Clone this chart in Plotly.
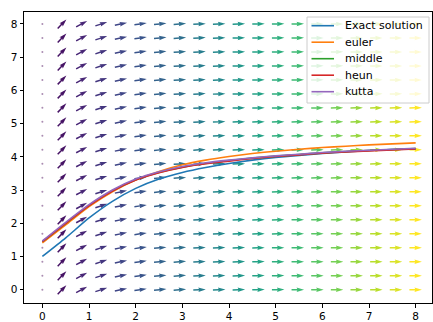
import numpy as np
import plotly.graph_objects as go
import plotly.colors as pc

# ---- direction field grid (20 x 20) ----
grid_x = [0.0, 0.421, 0.842, 1.263, 1.684, 2.105, 2.526, 2.947, 3.368, 3.789,
          4.211, 4.632, 5.053, 5.474, 5.895, 6.316, 6.737, 7.158, 7.579, 8.0]
grid_y = [0.0, 0.421, 0.842, 1.263, 1.684, 2.105, 2.526, 2.947, 3.368, 3.789,
          4.211, 4.632, 5.053, 5.474, 5.895, 6.316, 6.737, 7.158, 7.579, 8.0]
# arrow direction per column (degrees, on screen); first column has zero-length vectors
arrow_angle_deg = [None, 46, 28, 18, 12, 8, 5.5, 4, 3, 2.2,
                   1.6, 1.2, 1.0, 0.8, 0.6, 0.5, 0.4, 0.3, 0.2, 0.2]

# ---- solution curves ----
x_sol = [0, 0.5, 1, 1.5, 2, 2.5, 3, 3.5, 4, 4.5, 5, 5.5, 6, 6.5, 7, 7.5, 8]
exact = [1.0, 1.56, 2.16, 2.66, 3.05, 3.33, 3.53, 3.68, 3.8, 3.9, 3.98, 4.04, 4.1, 4.15, 4.19, 4.22, 4.24]
euler = [1.41, 1.95, 2.5, 2.95, 3.3, 3.56, 3.76, 3.9, 4.01, 4.1, 4.17, 4.23, 4.28, 4.32, 4.36, 4.39, 4.42]
middle = [1.45, 2.0, 2.54, 2.98, 3.31, 3.53, 3.69, 3.8, 3.89, 3.96, 4.02, 4.07, 4.12, 4.16, 4.19, 4.22, 4.25]
heun = [1.45, 2.0, 2.53, 2.97, 3.3, 3.52, 3.68, 3.79, 3.87, 3.95, 4.01, 4.06, 4.11, 4.15, 4.18, 4.21, 4.24]
kutta = [1.47, 2.03, 2.56, 3.0, 3.33, 3.55, 3.71, 3.82, 3.9, 3.97, 4.03, 4.08, 4.13, 4.17, 4.2, 4.23, 4.26]

series_names = ["Exact solution", "euler", "middle", "heun", "kutta"]
series_colors = ["#1f77b4", "#ff7f0e", "#2ca02c", "#d62728", "#9467bd"]
series_values = [exact, euler, middle, heun, kutta]

W, H = 433, 322
margin = dict(l=24, r=1, t=12, b=19, pad=0)
x_range = [-0.394, 8.35]
y_range = [-0.40, 8.36]
plot_w = W - margin['l'] - margin['r']
plot_h = H - margin['t'] - margin['b']
sx = plot_w / (x_range[1] - x_range[0])  # px per x unit
sy = plot_h / (y_range[1] - y_range[0])  # px per y unit

# matplotlib-like arrow geometry (pixels)
w = 1.5
L = 12.5
hl, hal, hw = 5 * w, 4.5 * w, 3 * w
shape_u = [0, L - hal, L - hl, L, L - hl, L - hal, 0, 0]
shape_v = [w / 2, w / 2, hw / 2, 0, -hw / 2, -w / 2, -w / 2, w / 2]

fig = go.Figure()
ncol = len(grid_x)
for k, gx in enumerate(grid_x):
    col = pc.sample_colorscale(pc.sequential.Viridis, k / (ncol - 1))[0]
    ang = arrow_angle_deg[k]
    if ang is None:
        fig.add_trace(go.Scatter(x=[gx] * len(grid_y), y=grid_y, mode='markers',
                                 marker=dict(size=2, color=col, opacity=0.45),
                                 showlegend=False, hoverinfo='skip'))
        continue
    th = np.deg2rad(ang)
    c, s = np.cos(th), np.sin(th)
    xs, ys = [], []
    for gy in grid_y:
        for u, v in zip(shape_u, shape_v):
            u0 = u - L / 2
            px = u0 * c - v * s
            py = u0 * s + v * c
            xs.append(gx + px / sx)
            ys.append(gy + py / sy)
        xs.append(None)
        ys.append(None)
    fig.add_trace(go.Scatter(x=xs, y=ys, mode='lines', fill='toself',
                             fillcolor=col, line=dict(width=0, color=col),
                             showlegend=False, hoverinfo='skip'))

for name, vals, color in zip(series_names, series_values, series_colors):
    fig.add_trace(go.Scatter(x=x_sol, y=vals, mode='lines', name=name, showlegend=False,
                             line=dict(color=color, width=1.6, shape='spline', smoothing=0.6)))

# ---- matplotlib-style legend (drawn in pixel positions converted to paper coords) ----
def pxx(p):
    return (p - margin['l']) / plot_w

def pxy(p):
    return (H - margin['b'] - p) / plot_h

shapes = [dict(type='rect', xref='paper', yref='paper', x0=pxx(307), x1=pxx(429),
               y0=pxy(103), y1=pxy(17), line=dict(color='#cccccc', width=1),
               fillcolor='rgba(255,255,255,0.8)', layer='above')]
annotations = []
for i, (name, color) in enumerate(zip(series_names, series_colors)):
    yy = 25.7 + i * 16.5
    shapes.append(dict(type='line', xref='paper', yref='paper', x0=pxx(311.5), x1=pxx(334),
                       y0=pxy(yy), y1=pxy(yy), line=dict(color=color, width=1.6), layer='above'))
    annotations.append(dict(xref='paper', yref='paper', x=pxx(343), y=pxy(yy), text=name,
                            showarrow=False, xanchor='left', yanchor='middle',
                            font=dict(family='DejaVu Sans', size=11, color='black')))

axis_common = dict(showgrid=False, zeroline=False, showline=True, linecolor='black',
                   linewidth=1, mirror=True, ticks='outside', ticklen=3.5, tickwidth=1,
                   tickcolor='black', automargin=False,
                   tickfont=dict(family='DejaVu Sans', size=10.5, color='black'))
fig.update_xaxes(range=x_range, tickvals=[0, 1, 2, 3, 4, 5, 6, 7, 8], **axis_common)
fig.update_yaxes(range=y_range, tickvals=[0, 1, 2, 3, 4, 5, 6, 7, 8], **axis_common)

fig.update_layout(width=W, height=H, margin=margin, plot_bgcolor='white', paper_bgcolor='white',
                  showlegend=False, shapes=shapes, annotations=annotations)
fig.write_html("out.html", config={'displayModeBar': False},
               post_script="document.body.style.margin='0px';document.body.style.overflow='hidden';")
